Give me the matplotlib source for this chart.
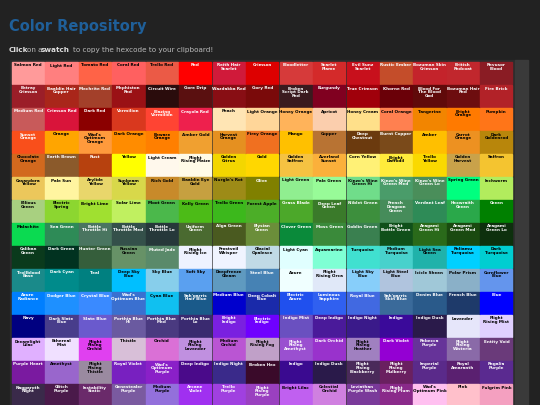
import textwrap
import matplotlib
matplotlib.use("Agg")
import matplotlib.pyplot as plt
from matplotlib.patches import Rectangle
from matplotlib.colors import to_rgb

names = [
    ["Salmon Red", "Light Red", "Tomato Red", "Coral Red", "Trello Red", "Red", "Reith Hair Scarlet", "Crimson", "Bloodletter", "Scarlet Flame", "Evil Sunz Scarlet", "Rustic Ember", "Bozuman Skin Crimson", "British Redcoat", "Revusor Blood"],
    ["Betray Crimson", "Baaldin Hair Copper", "Mechrite Red", "Mephiston Red", "Circuit Wire", "Gore Drip", "Wazdakka Red", "Gory Red", "Broken Script Dark Red", "Burgundy", "True Crimson", "Khorne Red", "Blood For The Blood God", "Bozuman Hair Red", "Fire Brick"],
    ["Medium Red", "Crimson Red", "Dark Red", "Vermilion", "Blazing Vermilion", "Crayola Red", "Peach", "Light Orange", "Honey Orange", "Apricot", "Honey Cream", "Coral Orange", "Tangerine", "Bright Orange", "Pumpkin"],
    ["Sunset Orange", "Orange", "Wad's Optimum Orange", "Dark Orange", "Beware Orange", "Amber Gold", "Harvest Orange", "Firey Orange", "Mango", "Copper", "Deep Chestnut", "Burnt Copper", "Amber", "Carrot Orange", "Dark Goldenrod"],
    ["Chocolate Orange", "Earth Brown", "Rust", "Yellow", "Light Cream", "Flight Rising Maize", "Golden Citrus", "Gold", "Golden Saffron", "Averland Sunset", "Corn Yellow", "Bright Daffodil", "Trello Yellow", "Golden Harvest", "Saffron"],
    ["Casandora Yellow", "Pale Sun", "Arylide Yellow", "Sunbeam Yellow", "Rich Gold", "Baaldin Eye Gold", "Nurgle's Rot", "Olive", "Light Green", "Pale Green", "Kinzo's Wine Green Hi", "Kinzo's Wine Green Med", "Kinzo's Wine Green Lo", "Spring Green", "Inchworm"],
    ["Bilious Green", "Electric Spring", "Bright Lime", "Solar Lime", "Moot Green", "Kelly Green", "Trello Green", "Forest Apple", "Grass Blade", "Deep Leaf Green", "Niblet Green", "French Dragoon Green", "Verdant Leaf", "Hexwraith Green", "Green"],
    ["Malachite", "Sea Green", "Bottle Throttle Hi", "Bottle Throttle Med", "Bottle Throttle Lo", "Uniform Green", "Alga Green", "Elysian Green", "Clover Green", "Moss Green", "Goblin Green", "Bright Bottle Green", "Aragami Green Hi", "Aragami Green Med", "Aragami Green Lo"],
    ["Caliban Green", "Dark Green", "Hunter Green", "Russian Green", "Muted Jade", "Flight Rising Ice", "Frostveil Whisper", "Glacial Opalesce", "Light Cyan", "Aquamarine", "Turquoise", "Medium Turquoise", "Light Sea Green", "Reliamu Turquoise", "Dark Turquoise"],
    ["Trollblood Base", "Dark Cyan", "Teal", "Deep Sky Blue", "Sky Blue", "Soft Sky", "Deepfreeze Gleam", "Steel Blue", "Azure", "Flight Rising Orca", "Light Sky Blue", "Light Steel Blue", "Icicle Sheen", "Polar Prism", "Cornflower Blue"],
    ["Azure Radiance", "Dodger Blue", "Crystal Blue", "Wad's Optimum Blue", "Cyan Blue", "Sah'garris Hair Blue", "Medium Blue", "Deep Cobalt Blue", "Electric Azure", "Luminous Sapphire", "Royal Blue", "Sah'garris Skin Blue", "Denim Blue", "French Blue", "Blue"],
    ["Navy", "Dark Slate Blue", "Slate Blue", "Porthia Blue Hi", "Porthia Blue Med", "Porthia Blue Lo", "Bright Indigo", "Electric Indigo", "Indigo Mist", "Deep Indigo", "Indigo Night", "Indigo", "Indigo Dusk", "Lavender", "Flight Rising Mist"],
    ["Dreamlight Lilac", "Ethereal Mist", "Flight Rising Orchid", "Thistle", "Orchid", "Flight Rising Lavender", "Medium Orchid", "Flight Rising Fog", "Flight Rising Amethyst", "Dark Orchid", "Flight Rising Heather", "Dark Violet", "Rebecca Purple", "Flight Rising Wisteria", "Entity Void"],
    ["Purple Heart", "Amethyst", "Flight Rising Thistle", "Royal Violet", "Wad's Optimum Purple", "Deep Indigo", "Indigo Night", "Broken Hex", "Indigo", "Indigo Dusk", "Flight Rising Blackberry", "Flight Rising Mulberry", "Imperial Purple", "Royal Amaranth", "Regalia Purple"],
    ["Naggaroth Night", "Glitch Purple", "Instability Static", "Genestealer Purple", "Medium Purple", "Arcane Violet", "Trello Purple", "Flight Rising Purple", "Bright Lilac", "Celestial Orchid", "Leviathan Purple Wash", "Flight Rising Plum", "Wad's Optimum Pink", "Pink", "Fulgrim Pink"],
]

colors = [
    ["#ff9a9a", "#ff7f7f", "#ff6347", "#ff6060", "#eb5a46", "#ff0000", "#d01a3a", "#dd0000", "#d63a3a", "#d42a2a", "#c8101c", "#c44d2a", "#c4232b", "#c1272d", "#8a1c24"],
    ["#9b1e28", "#a9261a", "#a3402a", "#9a1115", "#2a0c0c", "#5a1010", "#880e14", "#7a0a0a", "#3a1a1e", "#800020", "#a0000b", "#6a0008", "#600a0a", "#6d0d0f", "#b22228"],
    ["#c85a5a", "#d9143a", "#8b0000", "#d9381e", "#ff4433", "#ee204d", "#ffe5b4", "#ffd699", "#ffb35a", "#fbcead", "#ffe08a", "#ff8050", "#f28500", "#ff7a00", "#ff7518"],
    ["#f94f1b", "#ffa500", "#ff9a3c", "#ff8c00", "#ff7f00", "#f0a030", "#e59020", "#f07020", "#ffc000", "#b87333", "#6b3a0e", "#7a4a1a", "#ffbf00", "#ed9121", "#b8860b"],
    ["#d2691e", "#8b5a2b", "#b7410e", "#ffff00", "#fff8ec", "#fffbe8", "#f3d600", "#ffd700", "#f5c242", "#fbb03b", "#fff176", "#ffeb3b", "#fad900", "#c9a24a", "#f4c430"],
    ["#ecc75b", "#fff5a0", "#e9d66b", "#d8d84a", "#c88a2a", "#c6a040", "#9d8b17", "#808000", "#90ee90", "#98fb98", "#70dd8a", "#4a9c6a", "#4a8e5a", "#00ff7f", "#b2ec5d"],
    ["#a8d080", "#8cd630", "#a0e030", "#c0f060", "#4bb84b", "#4cbb17", "#3cb81c", "#4cae28", "#4ca82a", "#3a7a2a", "#3d8f3d", "#468c5a", "#2e8b57", "#2aa84a", "#008000"],
    ["#0bda51", "#2e8b57", "#4a7560", "#34504a", "#26383a", "#4a6a30", "#4a5a20", "#6b8e3a", "#0a8a3a", "#3a8a3a", "#3a8050", "#10501a", "#2a6a1a", "#1a4a10", "#0d300d"],
    ["#0a3a1c", "#013220", "#355e3b", "#679267", "#5a8a6a", "#eef2ff", "#f0f4ff", "#c0dae6", "#e0ffff", "#7fffd4", "#40e0d0", "#48d1cc", "#20b2aa", "#00d0ff", "#00ced1"],
    ["#1a8a8a", "#008b8b", "#008080", "#00bfff", "#87ceeb", "#5aa0f0", "#5f9ac0", "#4682b4", "#f0ffff", "#e0e8f8", "#87cefa", "#b0c4de", "#a0c8d8", "#8ab0c8", "#6495ed"],
    ["#007fff", "#1e90ff", "#3a8aff", "#3a70d0", "#10c0f0", "#1a5a8a", "#0000cd", "#1a2aaa", "#2050ee", "#3060f0", "#4169e1", "#3a6a9a", "#2a5a8a", "#1e3a6a", "#0000ff"],
    ["#000080", "#483d8b", "#6a5acd", "#6a5aa0", "#4a3a80", "#3a2a70", "#7a20e0", "#6f00ff", "#6a50c0", "#4a1a9a", "#3a1a8a", "#3a0a9a", "#2a1a4a", "#e6e6fa", "#e0d0ff"],
    ["#e0b0ff", "#f0e0ff", "#e040f0", "#d8bfd8", "#da70d6", "#c090e0", "#ba55d3", "#c0a0c8", "#9a50d0", "#9932cc", "#a080c0", "#9400d3", "#663399", "#8a6aa8", "#6a3a7a"],
    ["#7a1aa0", "#9966cc", "#9a8aa0", "#7820c0", "#8a20c8", "#4a0a8a", "#3a2a8a", "#3a0a2a", "#3a0a90", "#2a1a4a", "#4a2a5a", "#6a2060", "#5a2a8a", "#5a2070", "#5a2a90"],
    ["#3a2a4a", "#4a1a4a", "#6a2a6a", "#7a5aa0", "#9370db", "#a030f0", "#a040e0", "#9a40c0", "#c060f0", "#d080e0", "#7a3a9a", "#8a2a8a", "#ffc0f0", "#ffc0cb", "#f4a0c0"],
]

W, H = 540, 405
fig = plt.figure(figsize=(5.4, 4.05), dpi=100, facecolor="#222222")
ax = fig.add_axes([0, 0, 1, 1])
ax.set_xlim(0, W)
ax.set_ylim(H, 0)
ax.axis("off")

# page chrome
ax.add_patch(Rectangle((10, 60), 505, 350, color="#2c2c2c", zorder=0))
ax.add_patch(Rectangle((515, 60), 13, 350, color="#3a3a3a", zorder=0))
ax.text(9, 26, "Color Repository", color="#1f5f99", fontsize=10.5, fontweight="bold", va="center")
ax.text(9, 50, "Click", color="#dddddd", fontsize=5.2, fontweight="bold", va="center")
ax.text(27, 50, "on a", color="#bbbbbb", fontsize=5.2, va="center")
ax.text(41, 50, "swatch", color="#dddddd", fontsize=5.2, fontweight="bold", va="center")
ax.text(73, 50, "to copy the hexcode to your clipboard!", color="#bbbbbb", fontsize=5.2, va="center")

x0, y0, cw, rh = 12, 62, 33.45, 23
for r, (row_names, row_cols) in enumerate(zip(names, colors)):
    for c, (nm, col) in enumerate(zip(row_names, row_cols)):
        x, y = x0 + c * cw, y0 + r * rh
        ax.add_patch(Rectangle((x, y), cw - 1.3, rh - 1.5, color=col, zorder=1))
        rr, gg, bb = to_rgb(col)
        lum = 0.299 * rr + 0.587 * gg + 0.114 * bb
        tc = "black" if lum > 0.5 else "white"
        ax.text(x + (cw - 1.3) / 2, y + 1.5, "\n".join(textwrap.wrap(nm, 12)),
                color=tc, fontsize=3.0, fontweight="bold", ha="center", va="top",
                linespacing=0.95, zorder=2)

fig.savefig("out.png", dpi=100, facecolor=fig.get_facecolor())
